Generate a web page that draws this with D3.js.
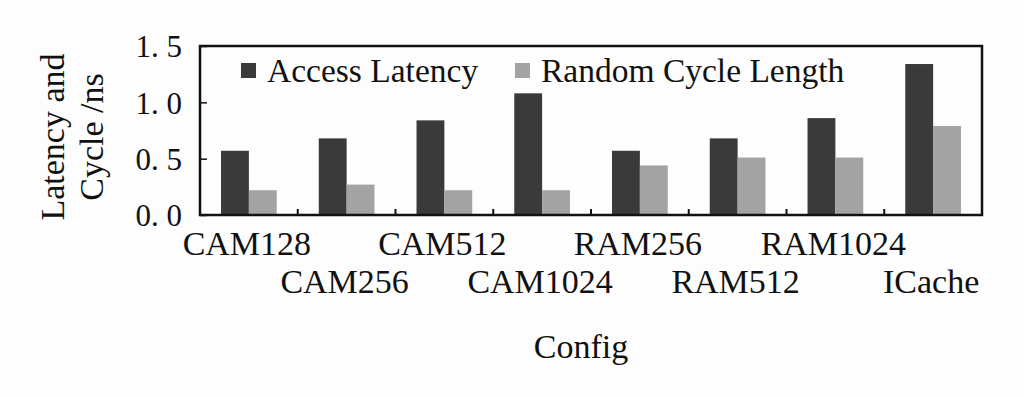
<!DOCTYPE html>
<html>
<head>
<meta charset="utf-8">
<script src="https://cdn.jsdelivr.net/npm/d3@7"></script>
<style>
  html, body { margin: 0; padding: 0; background: #fdfdfd; }
  svg { display: block; }
  text { font-family: "Liberation Serif", "Times New Roman", serif; fill: #111; }
</style>
</head>
<body>
<div id="chart"></div>
<script>
const categories = ["CAM128", "CAM256", "CAM512", "CAM1024", "RAM256", "RAM512", "RAM1024", "ICache"];
const seriesNames = ["Access Latency", "Random Cycle Length"];
const accessLatency = [0.57, 0.68, 0.84, 1.08, 0.57, 0.68, 0.86, 1.34];
const randomCycle = [0.22, 0.27, 0.22, 0.22, 0.44, 0.51, 0.51, 0.79];
const yTicks = [0, 0.5, 1.0, 1.5];
const colors = ["#3a3a3a", "#a3a3a3"];

const width = 1024, height = 397;
const margin = { top: 46, right: 42, bottom: 182, left: 200 };

const svg = d3.select("#chart").append("svg")
  .attr("width", width)
  .attr("height", height);

const x0 = d3.scaleBand()
  .domain(categories)
  .range([margin.left, width - margin.right])
  .padding(0);

const x1 = d3.scaleBand()
  .domain(seriesNames)
  .range([x0.bandwidth() * 0.215, x0.bandwidth() * 0.785])
  .padding(0);

const y = d3.scaleLinear()
  .domain([0, 1.5])
  .range([height - margin.bottom, margin.top]);

const rows = categories.map((c, i) => ({ cat: c, values: [accessLatency[i], randomCycle[i]] }));

// bars
const groups = svg.append("g").selectAll("g")
  .data(rows)
  .enter().append("g")
    .attr("transform", d => `translate(${x0(d.cat)},0)`);

groups.selectAll("rect")
  .data(d => d.values.map((v, j) => ({ name: seriesNames[j], value: v, j: j })))
  .enter().append("rect")
    .attr("x", d => x1(d.name))
    .attr("width", x1.bandwidth())
    .attr("y", d => y(d.value))
    .attr("height", d => y(0) - y(d.value))
    .attr("fill", d => colors[d.j]);

// y axis
const yAxis = svg.append("g")
  .attr("transform", `translate(${margin.left},0)`)
  .call(d3.axisLeft(y)
    .tickValues(yTicks)
    .tickSizeInner(-7)
    .tickSizeOuter(0)
    .tickPadding(18)
    .tickFormat(d => d3.format(".1f")(d).replace(".", ". ")));
yAxis.select(".domain").remove();
yAxis.selectAll("line").attr("stroke", "#111").attr("stroke-width", 1.5);
yAxis.selectAll("text")
  .style("font-size", "31px")
  .attr("fill", "#111")
  .attr("dy", "0.35em");

// x axis ticks between bands
const xAxis = svg.append("g")
  .attr("transform", `translate(0,${y(0)})`);
xAxis.selectAll("line")
  .data(categories.slice(1))
  .enter().append("line")
    .attr("x1", d => x0(d))
    .attr("x2", d => x0(d))
    .attr("y1", 0)
    .attr("y2", -6)
    .attr("stroke", "#111")
    .attr("stroke-width", 2);

xAxis.selectAll("text")
  .data(categories)
  .enter().append("text")
    .attr("x", d => x0(d) + x0.bandwidth() / 2 - 2)
    .attr("y", (d, i) => i % 2 === 0 ? 40 : 78)
    .attr("text-anchor", "middle")
    .style("font-size", "34px")
    .text(d => d);

// frame
svg.append("rect")
  .attr("x", margin.left)
  .attr("y", margin.top)
  .attr("width", width - margin.left - margin.right)
  .attr("height", y(0) - margin.top)
  .attr("fill", "none")
  .attr("stroke", "#111")
  .attr("stroke-width", 2.5);

// legend
const legendX = [241, 515];
const legend = svg.append("g").selectAll("g")
  .data(seriesNames)
  .enter().append("g")
    .attr("transform", (d, i) => `translate(${legendX[i]},63)`);
legend.append("rect")
  .attr("width", 15)
  .attr("height", 15)
  .attr("fill", (d, i) => colors[i]);
legend.append("text")
  .attr("x", 26)
  .attr("y", 19)
  .style("font-size", "33.5px")
  .text(d => d);

// axis titles
svg.append("text")
  .attr("x", 581)
  .attr("y", 358)
  .attr("text-anchor", "middle")
  .style("font-size", "34px")
  .text("Config");

const yTitle = svg.append("text")
  .attr("transform", "translate(64,137) rotate(-90)")
  .attr("text-anchor", "middle")
  .style("font-size", "34px");
yTitle.append("tspan").attr("x", 0).attr("y", 0).text("Latency and");
yTitle.append("tspan").attr("x", 0).attr("y", 39).text("Cycle /ns");
</script>
</body>
</html>
